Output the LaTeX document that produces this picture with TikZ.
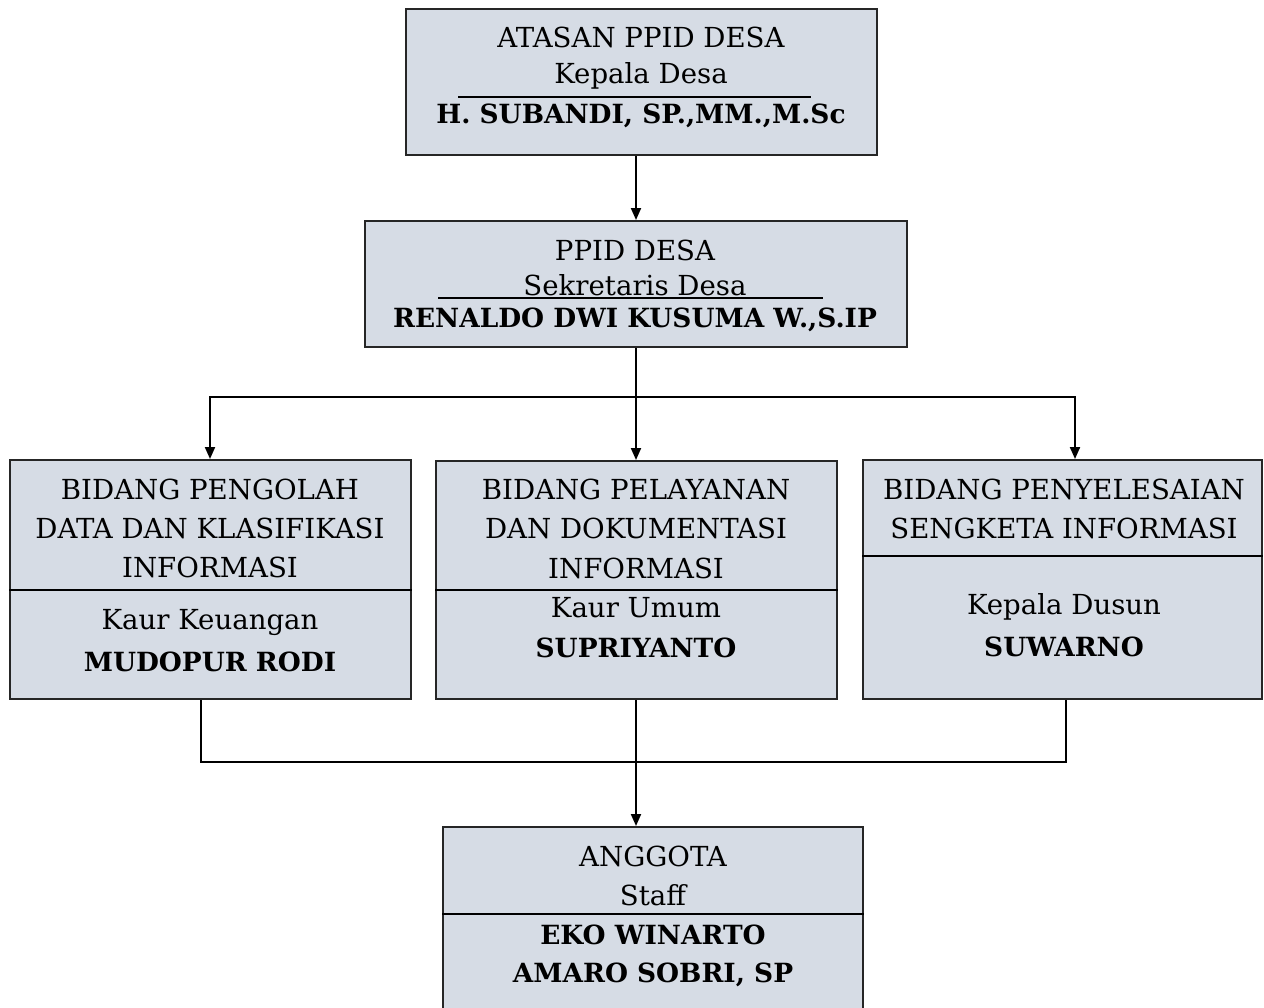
\documentclass[tikz,border=0pt]{standalone}
\usepackage{fontspec}
\setmainfont{DejaVu Serif}
\usetikzlibrary{arrows.meta}
\definecolor{boxfill}{HTML}{D6DCE5}
\tikzset{
  box/.style={draw=black!85, line width=1pt, fill=boxfill, rectangle, inner sep=0pt},
  txt/.style={font=\fontsize{13.8}{15}\selectfont, inner sep=0pt, anchor=center},
  btxt/.style={font=\fontsize{13.2}{15}\selectfont\bfseries, inner sep=0pt, anchor=center},
  conn/.style={line width=1pt, black},
  arr/.style={conn, -{Triangle[length=6pt,width=5pt]}},
}
\begin{document}
\begin{tikzpicture}[x=0.5pt,y=-0.5pt]
\useasboundingbox (0,0) rectangle (1264,1007);
\clip (0,0) rectangle (1264,1007);
% boxes
\node[box, minimum width=235.5pt, minimum height=73pt] (top) at (641.5,82) {};
\node[box, minimum width=271pt, minimum height=63pt] (sec) at (636,284) {};
\node[box, minimum width=200.5pt, minimum height=119.5pt] (left) at (210.5,579.5) {};
\node[box, minimum width=200.5pt, minimum height=119pt] (mid) at (636.5,580) {};
\node[box, minimum width=199.5pt, minimum height=119.5pt] (right) at (1062.5,579.5) {};
\node[box, minimum width=210pt, minimum height=100pt] (bot) at (653,927) {};
% dividers
\draw[conn] (left.west |- 0,590) coordinate (ld1) -- (left.east |- 0,590) coordinate (ld2);
\draw[conn] (mid.west |- 0,590) coordinate (md1) -- (mid.east |- 0,590) coordinate (md2);
\draw[conn] (right.west |- 0,556) coordinate (rd1) -- (right.east |- 0,556) coordinate (rd2);
\draw[conn] (bot.west |- 0,914) coordinate (bd1) -- (bot.east |- 0,914) coordinate (bd2);
% underlines
\draw[line width=0.8pt] (458,97) coordinate (u1a) -- (811,97) coordinate (u1b);
\draw[line width=0.8pt] (438,298) coordinate (u2a) -- (823,298) coordinate (u2b);
% texts
\node[txt] (t1) at (641,37) {ATASAN PPID DESA};
\node[txt] (t2) at (641,76) {Kepala Desa};
\node[btxt] (t3) at (641,116) {H. SUBANDI, SP.,MM.,M.Sc};
\node[txt] (s1) at (635,250) {PPID DESA};
\node[txt] (s2) at (635,285) {Sekretaris Desa};
\node[btxt] (s3) at (635,320) {RENALDO DWI KUSUMA W.,S.IP};
\node[txt] (l1) at (210,489) {BIDANG PENGOLAH};
\node[txt] (l2) at (210,528) {DATA DAN KLASIFIKASI};
\node[txt] (l3) at (210,567) {INFORMASI};
\node[txt] (l4) at (210,622) {Kaur Keuangan};
\node[btxt] (l5) at (210,662) {MUDOPUR RODI};
\node[txt] (m1) at (636,489) {BIDANG PELAYANAN};
\node[txt] (m2) at (636,528) {DAN DOKUMENTASI};
\node[txt] (m3) at (636,568) {INFORMASI};
\node[txt] (m4) at (636,608) {Kaur Umum};
\node[btxt] (m5) at (636,648) {SUPRIYANTO};
\node[txt] (r1) at (1064,489) {BIDANG PENYELESAIAN};
\node[txt] (r2) at (1064,528) {SENGKETA INFORMASI};
\node[txt] (r3) at (1064,607) {Kepala Dusun};
\node[btxt] (r4) at (1064,647) {SUWARNO};
\node[txt] (b1) at (653,856) {ANGGOTA};
\node[txt] (b2) at (653,895) {Staff};
\node[btxt] (b3) at (653,935) {EKO WINARTO};
\node[btxt] (b4) at (653,975) {AMARO SOBRI, SP};
% connectors
\draw[arr] (top.south -| sec.north) -- (sec.north);
\coordinate (split) at (sec.south |- 0,397);
\coordinate (dl) at (210,397);
\coordinate (dr) at (1075,397);
\draw[conn] (sec.south) -- (split);
\draw[arr] (split) -- (split |- mid.north);
\draw[arr] (split) -- (dl) -- (dl |- left.north);
\draw[arr] (split) -- (dr) -- (dr |- right.north);
\coordinate (jl) at (201,762);
\coordinate (jr) at (1066,762);
\draw[conn] (left.south -| jl) -- (jl) -- (jr) -- (right.south -| jr);
\draw[arr] (split |- mid.south) -- (split |- bot.north);
\end{tikzpicture}
\end{document}
